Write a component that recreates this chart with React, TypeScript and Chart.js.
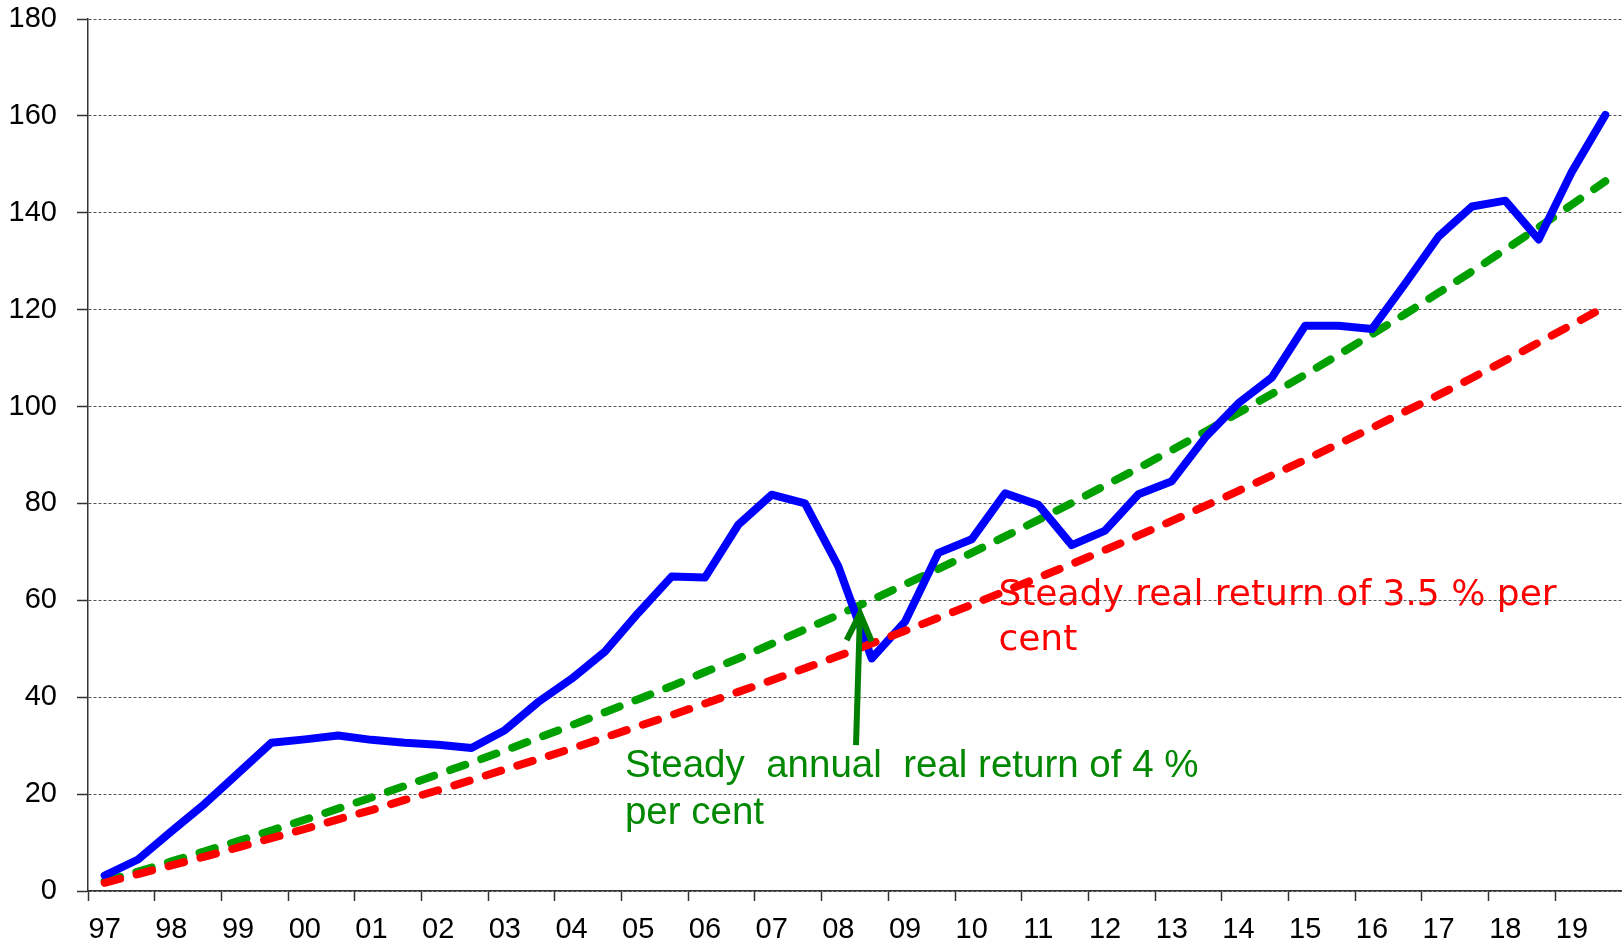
import React, { useEffect, useRef } from 'react';
import { Chart, registerables } from 'chart.js';

Chart.register(...registerables);

// Half-year periods from 1997 to 2019
const years = ['97', '98', '99', '00', '01', '02', '03', '04', '05', '06', '07', '08', '09', '10', '11', '12', '13', '14', '15', '16', '17', '18', '19'];
const halves = ['H1', 'H2'];

// Actual cumulative real return (blue)
const actualReturn = [
  3.2, 6.5, 12.3, 18.0, 24.3, 30.6, 31.3, 32.1, 31.2, 30.6,
  30.2, 29.5, 33.2, 39.0, 43.8, 49.4, 57.4, 64.9, 64.7, 75.6,
  81.8, 80.0, 67.0, 48.0, 55.6, 69.8, 72.6, 82.1, 79.7, 71.4,
  74.4, 81.9, 84.6, 93.6, 100.7, 106.0, 116.7, 116.7, 116.0, 125.4,
  135.1, 141.3, 142.5, 134.5, 148.5, 160.2,
];

// Steady 4 % annual real return (green dashed)
const steady4 = [
  2.0, 4.0, 6.1, 8.2, 10.3, 12.5, 14.7, 17.0, 19.3, 21.7,
  24.1, 26.5, 29.0, 31.6, 34.2, 36.9, 39.6, 42.3, 45.2, 48.0,
  51.0, 54.0, 57.0, 60.1, 63.3, 66.5, 69.8, 73.2, 76.6, 80.1,
  83.7, 87.3, 91.0, 94.8, 98.7, 102.6, 106.6, 110.7, 114.9, 119.1,
  123.5, 127.9, 132.4, 137.0, 141.7, 146.5,
];

// Steady 3.5 % real return (red dashed)
const steady35 = [
  1.7, 3.5, 5.3, 7.1, 9.0, 10.9, 12.8, 14.8, 16.7, 18.8,
  20.8, 22.9, 25.1, 27.2, 29.4, 31.7, 34.0, 36.3, 38.7, 41.1,
  43.5, 46.0, 48.5, 51.1, 53.7, 56.4, 59.1, 61.9, 64.7, 67.5,
  70.4, 73.4, 76.4, 79.5, 82.6, 85.8, 89.0, 92.3, 95.6, 99.0,
  102.4, 105.9, 109.5, 113.2, 116.9, 120.6,
];

const yMin = 0;
const yMax = 180;
const yStep = 20;

const greenLabel = ['Steady  annual  real return of 4 %', 'per cent'];
const redLabel = ['Steady real return of 3.5 % per', 'cent'];

const tickFont = "'Liberation Sans', Arial, sans-serif";

const annotationPlugin = {
  id: 'textAnnotations',
  beforeDraw(chart: any) {
    const { ctx, scales } = chart;
    const x = scales.x;
    const y = scales.y;
    ctx.save();
    ctx.textAlign = 'left';
    ctx.textBaseline = 'alphabetic';
    // red label
    ctx.fillStyle = '#ff0000';
    ctx.font = "36px 'DejaVu Sans', sans-serif";
    ctx.fillText(redLabel[0], x.getPixelForValue(26.8), y.getPixelForValue(59.0));
    ctx.fillText(redLabel[1], x.getPixelForValue(26.8), y.getPixelForValue(49.7));
    // green label
    ctx.fillStyle = '#008800';
    ctx.font = "38.5px 'Liberation Sans', Arial, sans-serif";
    ctx.fillText(greenLabel[0], x.getPixelForValue(15.6), y.getPixelForValue(23.6));
    ctx.fillText(greenLabel[1], x.getPixelForValue(15.6), y.getPixelForValue(13.9));
    ctx.restore();
  },
  afterDatasetsDraw(chart: any) {
    const { ctx, scales } = chart;
    const x = scales.x;
    const y = scales.y;
    const tailX = x.getPixelForValue(22.53);
    const tailY = y.getPixelForValue(30.1);
    const tipX = x.getPixelForValue(22.65);
    const tipY = y.getPixelForValue(57.3);
    const lX = x.getPixelForValue(22.25);
    const lY = y.getPixelForValue(51.8);
    const rX = x.getPixelForValue(23.0);
    const rY = y.getPixelForValue(51.5);
    ctx.save();
    ctx.strokeStyle = '#008000';
    ctx.lineWidth = 6;
    ctx.lineCap = 'butt';
    ctx.lineJoin = 'miter';
    ctx.beginPath();
    ctx.moveTo(tailX, tailY);
    ctx.lineTo(tipX, tipY);
    ctx.stroke();
    ctx.beginPath();
    ctx.moveTo(lX, lY);
    ctx.lineTo(tipX, tipY);
    ctx.lineTo(rX, rY);
    ctx.stroke();
    ctx.restore();
  },
};

export default function App() {
  const ref = useRef<HTMLCanvasElement>(null);

  useEffect(() => {
    const labels = years.flatMap((yr) => halves.map((h) => `${yr} ${h}`));
    const chart = new Chart(ref.current as HTMLCanvasElement, {
      type: 'line',
      data: {
        labels,
        datasets: [
          {
            label: 'Steady real return of 3.5 % per cent',
            data: steady35,
            borderColor: '#ff0000',
            borderWidth: 8,
            borderDash: [16, 17],
            borderCapStyle: 'round',
            pointRadius: 0,
            tension: 0,
            fill: false,
            order: 0,
          },
          {
            label: 'Actual real return',
            data: actualReturn,
            borderColor: '#0000ff',
            borderWidth: 8,
            borderCapStyle: 'round',
            borderJoinStyle: 'round',
            pointRadius: 0,
            tension: 0,
            fill: false,
            order: 1,
          },
          {
            label: 'Steady annual real return of 4 % per cent',
            data: steady4,
            borderColor: '#00a000',
            borderWidth: 8,
            borderDash: [16, 17],
            borderCapStyle: 'round',
            pointRadius: 0,
            tension: 0,
            fill: false,
            order: 2,
          },
        ],
      },
      options: {
        responsive: false,
        animation: false,
        devicePixelRatio: 1,
        layout: { padding: { top: 19, right: 0, left: 0, bottom: 0 } },
        plugins: {
          legend: { display: false },
          title: { display: false },
          tooltip: { enabled: false },
        },
        scales: {
          x: {
            type: 'category',
            offset: true,
            afterFit: (s: any) => {
              s.height = 53;
              s.paddingLeft = 0;
              s.paddingRight = 0;
            },
            grid: {
              offset: true,
              drawOnChartArea: false,
              drawTicks: true,
              tickLength: 10,
              tickWidth: 1.5,
              tickColor: (c: any) => (c.index % 2 === 0 ? '#333' : 'rgba(0,0,0,0)'),
            },
            border: { display: true, color: '#333', width: 1.5 },
            ticks: {
              autoSkip: false,
              maxRotation: 0,
              minRotation: 0,
              padding: 12,
              color: '#000',
              font: { family: tickFont, size: 29 },
              callback: function (this: any, value: any) {
                const l = String(this.getLabelForValue(value));
                return l.endsWith('H1') ? l.split(' ')[0] : '';
              },
            },
          },
          y: {
            min: yMin,
            max: yMax,
            afterFit: (s: any) => {
              s.width = 88;
              s.paddingTop = 0;
              s.paddingBottom = 0;
            },
            grid: {
              color: '#555',
              lineWidth: 1,
              drawTicks: true,
              tickLength: 11,
              tickColor: '#333',
              tickWidth: 1.5,
            },
            border: { display: true, color: '#333', width: 1.5, dash: [3, 2] },
            ticks: {
              stepSize: yStep,
              padding: 20,
              color: '#000',
              font: { family: tickFont, size: 29 },
            },
          },
        },
      },
      plugins: [annotationPlugin],
    } as any);
    return () => chart.destroy();
  }, []);

  return (
    <div style={{ position: 'fixed', left: 0, top: 0, width: 1622, height: 944, background: '#fff' }}>
      <canvas ref={ref} width={1622} height={944} style={{ display: 'block' }} />
    </div>
  );
}
